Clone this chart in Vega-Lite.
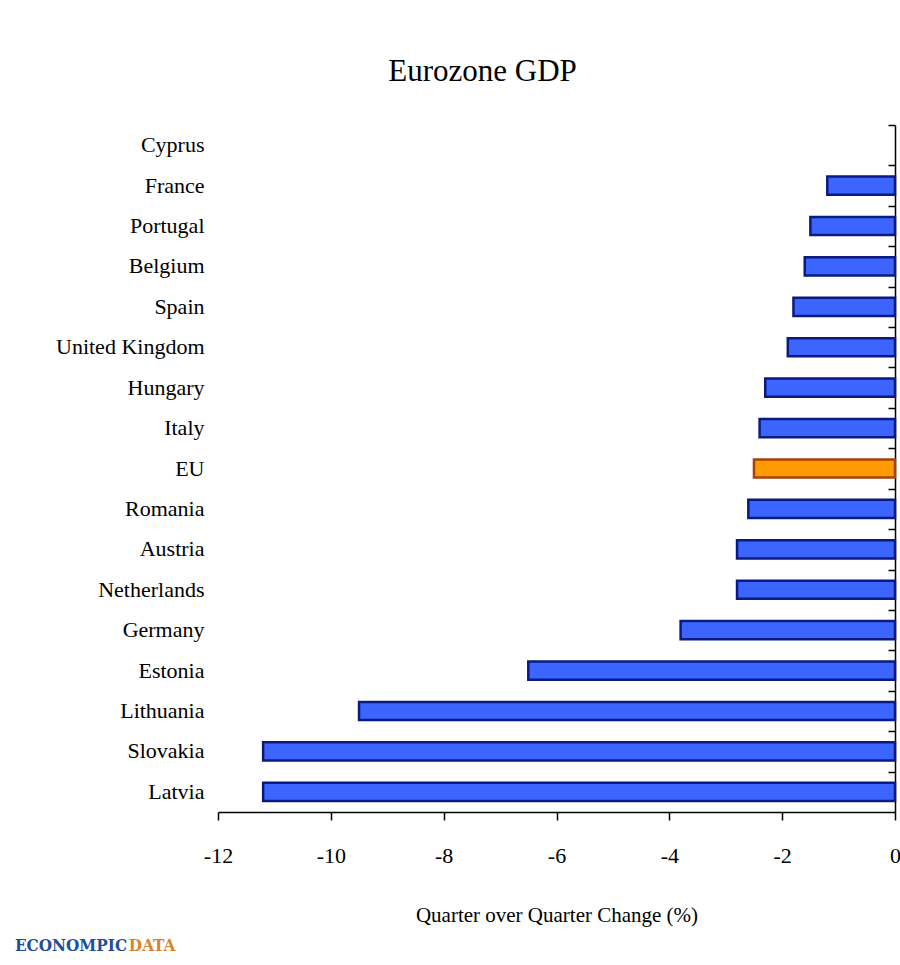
{
  "$schema": "https://vega.github.io/schema/vega-lite/v6.json",
  "width": 677,
  "height": 687,
  "autosize": {"type": "none"},
  "padding": {"left": 218, "top": 125, "right": 5, "bottom": 153},
  "background": "white",
  "title": {"text": "Eurozone GDP", "font": "Liberation Serif", "fontSize": 31, "fontWeight": "normal", "color": "black", "anchor": "middle", "frame": "group", "dx": -74, "offset": 36},
  "data": {"values": [
    {"country": "Cyprus", "change": null},
    {"country": "France", "change": -1.2},
    {"country": "Portugal", "change": -1.5},
    {"country": "Belgium", "change": -1.6},
    {"country": "Spain", "change": -1.8},
    {"country": "United Kingdom", "change": -1.9},
    {"country": "Hungary", "change": -2.3},
    {"country": "Italy", "change": -2.4},
    {"country": "EU", "change": -2.5},
    {"country": "Romania", "change": -2.6},
    {"country": "Austria", "change": -2.8},
    {"country": "Netherlands", "change": -2.8},
    {"country": "Germany", "change": -3.8},
    {"country": "Estonia", "change": -6.5},
    {"country": "Lithuania", "change": -9.5},
    {"country": "Slovakia", "change": -11.2},
    {"country": "Latvia", "change": -11.2}
  ]},
  "layer": [
    {
      "mark": {"type": "bar", "strokeWidth": 2.5},
      "encoding": {
        "y": {
          "field": "country", "type": "nominal",
          "scale": {"domain": ["Cyprus", "France", "Portugal", "Belgium", "Spain", "United Kingdom", "Hungary", "Italy", "EU", "Romania", "Austria", "Netherlands", "Germany", "Estonia", "Lithuania", "Slovakia", "Latvia"], "paddingInner": 0.55, "paddingOuter": 0.275},
          "axis": {"orient": "left", "title": null, "domain": false, "ticks": false, "labelPadding": 14, "labelFont": "Liberation Serif", "labelFontSize": 22, "labelColor": "black", "labelLimit": 300}
        },
        "x": {
          "field": "change", "type": "quantitative",
          "scale": {"domain": [-12, 0], "nice": false, "zero": false},
          "axis": {"values": [-12, -10, -8, -6, -4, -2, 0], "labelExpr": "'' + datum.value", "grid": false, "domainColor": "black", "domainWidth": 1.5, "tickColor": "black", "tickWidth": 1.5, "tickSize": 8, "labelFlush": false, "labelPadding": 25, "labelFont": "Liberation Serif", "labelFontSize": 22, "labelColor": "black", "title": "Quarter over Quarter Change (%)", "titleFont": "Liberation Serif", "titleFontSize": 21, "titleFontWeight": "normal", "titleColor": "black", "titlePadding": 38}
        },
        "fill": {"condition": {"test": "datum.country === 'EU'", "value": "#FF9A00"}, "value": "#3C64FF"},
        "stroke": {"condition": {"test": "datum.country === 'EU'", "value": "#A8420A"}, "value": "#0A1A80"}
      }
    },
    {
      "mark": {"type": "bar", "opacity": 0},
      "encoding": {
        "y": {"field": "country", "type": "nominal", "axis": {"orient": "left", "offset": -677, "title": null, "labels": false, "domain": true, "domainColor": "black", "domainWidth": 1.5, "ticks": true, "tickSize": 7, "tickWidth": 1.5, "tickColor": "black", "tickOffset": -20.2}},
        "x": {"field": "change", "type": "quantitative"}
      }
    },
    {
      "data": {"values": [{}]},
      "mark": {"type": "text", "text": "ECONOMPIC", "align": "left", "baseline": "middle", "dy": 154, "font": "DejaVu Serif Condensed", "fontWeight": "bold", "fontSize": 17, "fill": "#1F4E9C", "clip": false},
      "encoding": {
        "x": {"datum": -15.6, "type": "quantitative"},
        "y": {"datum": "Latvia", "type": "nominal", "axis": null}
      }
    },
    {
      "data": {"values": [{}]},
      "mark": {"type": "text", "text": "DATA", "align": "left", "baseline": "middle", "dy": 154, "font": "DejaVu Serif Condensed", "fontWeight": "bold", "fontSize": 17, "fill": "#D9832A", "clip": false},
      "encoding": {
        "x": {"datum": -13.58, "type": "quantitative"},
        "y": {"datum": "Latvia", "type": "nominal", "axis": null}
      }
    }
  ],
  "resolve": {"axis": {"y": "independent"}},
  "config": {"view": {"stroke": null}}
}
